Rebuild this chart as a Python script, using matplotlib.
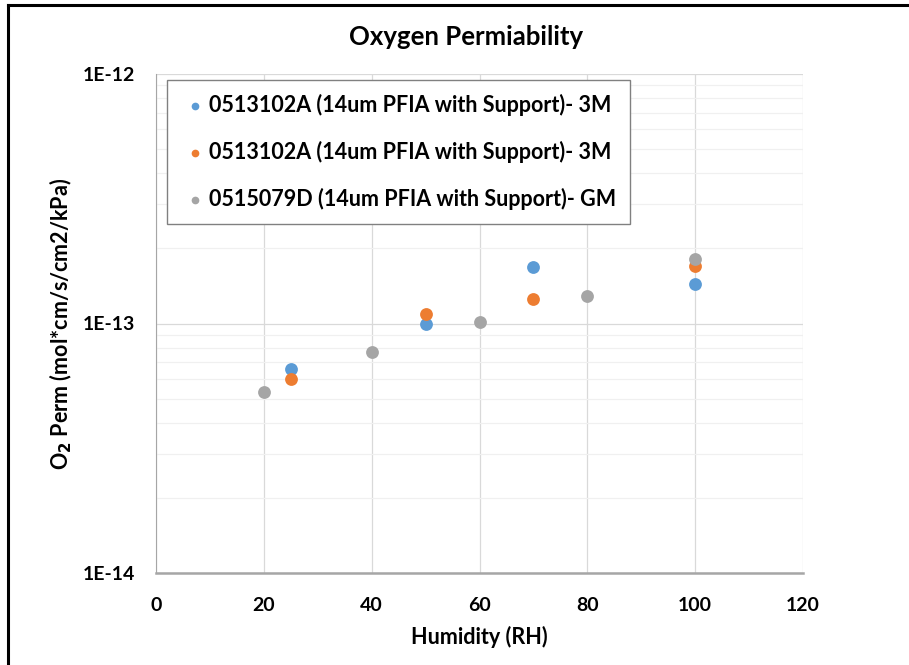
import math
import matplotlib.pyplot as plt
from matplotlib.lines import Line2D
from matplotlib.ticker import LogLocator, FixedLocator, FuncFormatter

plt.rcParams['font.family'] = ['Lato', 'DejaVu Sans']
plt.rcParams['font.weight'] = 'bold'

# data
labels = ['0513102A (14um PFIA with Support)- 3M',
          '0513102A (14um PFIA with Support)- 3M',
          '0515079D (14um PFIA with Support)- GM']
colors = ['#5B9BD5', '#ED7D31', '#A5A5A5']

rh_blue = [25, 50, 70, 100]
perm_blue = [6.6e-14, 9.95e-14, 1.68e-13, 1.44e-13]

rh_orange = [25, 50, 70, 100]
perm_orange = [6.0e-14, 1.09e-13, 1.25e-13, 1.70e-13]

rh_grey = [20, 40, 60, 80, 100]
perm_grey = [5.3e-14, 7.7e-14, 1.01e-13, 1.29e-13, 1.81e-13]

fig = plt.figure(figsize=(9.09, 6.65), dpi=100)
ax = fig.add_axes([156/909, 1 - 573/665, (803-156)/909, (573-74)/665])

series = [(rh_blue, perm_blue), (rh_orange, perm_orange), (rh_grey, perm_grey)]
for (x, y), c, lab in zip(series, colors, labels):
    ax.scatter(x, y, s=85, color=c, label=lab, zorder=3, linewidths=0)

ax.set_yscale('log')
ax.set_ylim(1e-14, 1e-12)
ax.set_xlim(0, 120)
ax.xaxis.set_major_locator(FixedLocator([0, 20, 40, 60, 80, 100, 120]))
ax.yaxis.set_major_locator(FixedLocator([1e-14, 1e-13, 1e-12]))
ax.yaxis.set_minor_locator(LogLocator(base=10, subs=range(2, 10)))
ax.yaxis.set_major_formatter(FuncFormatter(lambda v, p: '1E%d' % round(math.log10(v))))
ax.yaxis.set_minor_formatter(FuncFormatter(lambda v, p: ''))

ax.grid(True, which='major', color='#D9D9D9', linewidth=0.9)
ax.grid(True, which='minor', axis='y', color='#F0F0F0', linewidth=0.9)
ax.set_axisbelow(True)

ax.tick_params(axis='both', which='both', length=0, labelsize=14)
ax.tick_params(axis='x', pad=17)
ax.tick_params(axis='y', pad=15)
for lab in ax.get_xticklabels() + ax.get_yticklabels():
    lab.set_fontweight('bold')

for s in ['top', 'right']:
    ax.spines[s].set_visible(False)
ax.spines['left'].set_color('#A6A6A6')
ax.spines['bottom'].set_color('#A6A6A6')
ax.spines['bottom'].set_linewidth(1.8)

# title is centred on the chart area, not the plot area
fig.text(466/909, 1 - 37/665, 'Oxygen Permiability', fontsize=18.5,
         fontweight='bold', ha='center', va='center')
ax.set_xlabel('Humidity (RH)', fontsize=15.5, fontweight='bold', labelpad=9)
ax.set_ylabel('O$_2$ Perm (mol*cm/s/cm2/kPa)', fontsize=15.5, fontweight='bold', labelpad=6)

leg = ax.legend(loc='upper left', bbox_to_anchor=(0.017, 0.988), borderaxespad=0,
                prop={'weight': 'bold', 'size': 15.5}, fancybox=False,
                edgecolor='#808080', framealpha=1, handletextpad=0.0,
                labelspacing=1.15, borderpad=0.65, markerscale=0.6, handlelength=1.3)
leg.get_frame().set_linewidth(1.0)

# frame of the screenshot
fig.add_artist(Line2D([8/909, 8/909], [0, 1 - 5/665], color='black', linewidth=2.2))
fig.add_artist(Line2D([8/909, 1], [1 - 5/665, 1 - 5/665], color='black', linewidth=2.2))

fig.savefig('out.png', dpi=100)
